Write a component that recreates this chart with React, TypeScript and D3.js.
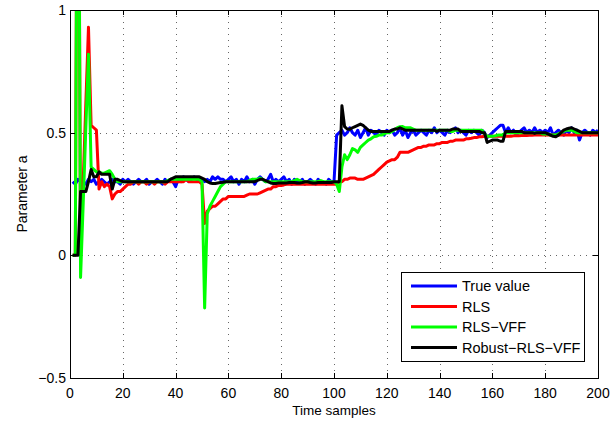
import React from "react";
import * as d3 from "d3";

const samples: number[] = d3.range(1, 201);

const trueValue: number[] = [
  0.30,0.29,0.31,0.30,0.30,0.29,0.31,0.30,0.31,0.29,0.30,0.31,0.30,0.29,0.30,0.31,0.30,0.30,0.29,0.31,
  0.30,0.31,0.30,0.29,0.30,0.31,0.30,0.30,0.31,0.29,0.30,0.30,0.31,0.30,0.29,0.31,0.30,0.31,0.30,0.28,
  0.31,0.30,0.32,0.31,0.30,0.31,0.32,0.31,0.30,0.31,0.30,0.31,0.30,0.32,0.31,0.32,0.31,0.31,0.30,0.31,
  0.32,0.30,0.31,0.29,0.31,0.30,0.32,0.30,0.31,0.29,0.31,0.32,0.31,0.30,0.31,0.33,0.30,0.31,0.30,0.31,
  0.32,0.30,0.31,0.29,0.31,0.30,0.30,0.31,0.29,0.30,0.31,0.30,0.29,0.31,0.30,0.30,0.29,0.31,0.30,0.30,
  0.49,0.50,0.51,0.49,0.50,0.52,0.50,0.49,0.51,0.48,0.50,0.52,0.49,0.51,0.50,0.49,0.51,0.50,0.49,0.51,
  0.50,0.51,0.49,0.50,0.52,0.49,0.51,0.48,0.50,0.51,0.49,0.50,0.51,0.50,0.49,0.51,0.50,0.52,0.50,0.51,
  0.50,0.49,0.51,0.50,0.51,0.52,0.50,0.51,0.50,0.49,0.51,0.50,0.51,0.50,0.49,0.51,0.50,0.48,0.49,0.50,
  0.51,0.52,0.53,0.53,0.50,0.52,0.50,0.51,0.49,0.50,0.51,0.52,0.50,0.51,0.50,0.52,0.50,0.51,0.50,0.51,
  0.50,0.52,0.49,0.50,0.51,0.50,0.49,0.51,0.50,0.52,0.50,0.51,0.47,0.50,0.51,0.50,0.49,0.51,0.50,0.51,
];

const rls: number[] = [
  0.00,0.00,2.50,0.00,0.30,0.62,0.93,0.53,0.52,0.51,0.27,0.30,0.28,0.29,0.28,0.23,0.25,0.26,0.26,0.27,
  0.28,0.29,0.29,0.30,0.30,0.29,0.30,0.30,0.29,0.30,0.30,0.29,0.30,0.30,0.30,0.29,0.30,0.30,0.30,0.30,
  0.30,0.30,0.30,0.31,0.30,0.30,0.30,0.30,0.30,0.29,0.13,0.18,0.19,0.20,0.20,0.21,0.22,0.23,0.23,0.24,
  0.24,0.24,0.24,0.24,0.24,0.24,0.245,0.25,0.25,0.25,0.25,0.255,0.26,0.265,0.27,0.27,0.28,0.28,0.285,0.285,
  0.287,0.29,0.29,0.29,0.29,0.29,0.29,0.29,0.29,0.29,0.29,0.29,0.29,0.29,0.29,0.29,0.29,0.29,0.29,0.29,
  0.29,0.30,0.30,0.31,0.31,0.315,0.315,0.315,0.31,0.31,0.31,0.315,0.32,0.325,0.33,0.34,0.35,0.36,0.37,0.38,
  0.385,0.39,0.39,0.40,0.42,0.42,0.42,0.42,0.425,0.43,0.435,0.44,0.44,0.445,0.445,0.45,0.45,0.45,0.455,0.455,
  0.46,0.46,0.46,0.465,0.465,0.47,0.47,0.47,0.47,0.475,0.475,0.477,0.48,0.48,0.483,0.483,0.485,0.485,0.485,0.485,
  0.485,0.485,0.485,0.485,0.485,0.485,0.485,0.487,0.487,0.487,0.488,0.488,0.488,0.489,0.489,0.49,0.49,0.49,0.49,0.49,
  0.49,0.49,0.49,0.49,0.49,0.49,0.49,0.49,0.49,0.49,0.49,0.49,0.49,0.49,0.49,0.49,0.49,0.49,0.49,0.49,
];

const rlsVff: number[] = [
  0.00,0.00,2.50,-0.09,0.21,0.52,0.82,0.36,0.35,0.34,0.34,0.335,0.335,0.34,0.345,0.33,0.31,0.30,0.30,0.30,
  0.30,0.30,0.30,0.30,0.30,0.30,0.30,0.30,0.30,0.30,0.30,0.30,0.30,0.30,0.30,0.30,0.305,0.31,0.31,0.31,
  0.31,0.31,0.31,0.31,0.31,0.31,0.31,0.31,0.31,0.30,-0.215,0.17,0.20,0.22,0.24,0.26,0.28,0.29,0.30,0.30,
  0.30,0.30,0.30,0.30,0.30,0.30,0.30,0.305,0.31,0.31,0.31,0.315,0.31,0.30,0.30,0.30,0.30,0.30,0.30,0.30,
  0.30,0.30,0.30,0.30,0.305,0.31,0.305,0.30,0.30,0.30,0.30,0.30,0.30,0.30,0.305,0.30,0.30,0.30,0.30,0.30,
  0.29,0.26,0.36,0.41,0.39,0.41,0.435,0.43,0.42,0.44,0.45,0.46,0.47,0.475,0.483,0.485,0.49,0.49,0.495,0.50,
  0.50,0.505,0.513,0.52,0.524,0.525,0.52,0.52,0.52,0.515,0.51,0.51,0.51,0.51,0.51,0.51,0.51,0.51,0.51,0.51,
  0.51,0.51,0.51,0.505,0.505,0.51,0.51,0.51,0.51,0.51,0.51,0.51,0.51,0.51,0.51,0.51,0.495,0.485,0.485,0.485,
  0.487,0.49,0.49,0.49,0.50,0.50,0.50,0.50,0.50,0.50,0.50,0.50,0.50,0.50,0.50,0.50,0.50,0.50,0.495,0.495,
  0.495,0.49,0.49,0.49,0.495,0.50,0.505,0.51,0.51,0.51,0.505,0.50,0.50,0.50,0.50,0.50,0.50,0.50,0.50,0.50,
];

const robustRlsVff: number[] = [
  0.00,0.00,0.00,0.26,0.26,0.26,0.30,0.35,0.32,0.32,0.34,0.33,0.33,0.33,0.33,0.27,0.31,0.31,0.305,0.30,
  0.30,0.30,0.30,0.30,0.30,0.30,0.30,0.30,0.30,0.30,0.30,0.30,0.30,0.30,0.30,0.30,0.30,0.31,0.315,0.32,
  0.32,0.32,0.32,0.32,0.32,0.32,0.32,0.32,0.32,0.315,0.31,0.30,0.295,0.293,0.293,0.295,0.297,0.298,0.30,0.30,
  0.30,0.30,0.30,0.30,0.30,0.30,0.30,0.30,0.30,0.30,0.305,0.31,0.31,0.305,0.30,0.295,0.293,0.293,0.295,0.295,
  0.295,0.295,0.297,0.297,0.297,0.295,0.295,0.297,0.30,0.30,0.297,0.295,0.295,0.297,0.297,0.297,0.297,0.297,0.297,0.30,
  0.30,0.30,0.61,0.525,0.515,0.514,0.52,0.525,0.53,0.535,0.53,0.52,0.51,0.505,0.505,0.505,0.505,0.505,0.505,0.505,
  0.505,0.51,0.515,0.515,0.52,0.515,0.51,0.51,0.51,0.51,0.51,0.51,0.51,0.51,0.51,0.51,0.51,0.51,0.505,0.51,
  0.51,0.51,0.51,0.51,0.515,0.515,0.515,0.505,0.505,0.505,0.505,0.505,0.505,0.505,0.505,0.50,0.50,0.46,0.465,0.47,
  0.47,0.47,0.465,0.465,0.505,0.505,0.505,0.505,0.505,0.505,0.505,0.50,0.50,0.50,0.50,0.497,0.50,0.50,0.50,0.50,
  0.495,0.49,0.485,0.483,0.49,0.50,0.51,0.515,0.518,0.52,0.515,0.51,0.505,0.50,0.50,0.50,0.50,0.50,0.50,0.50,
];

const seriesNames: string[] = ["True value", "RLS", "RLS\u2212VFF", "Robust\u2212RLS\u2212VFF"];
const seriesColors: string[] = ["#0000ff", "#ff0000", "#00ff00", "#000000"];
const xTicks: number[] = [0, 20, 40, 60, 80, 100, 120, 140, 160, 180, 200];
const yTicks: number[] = [-0.5, 0, 0.5, 1];
const xLabel = "Time samples";
const yLabel = "Parameter a";

const W = 615;
const H = 421;
const left = 70;
const right = 598;
const top = 10;
const bottom = 378;
const FONT = "'Liberation Sans', Arial, Helvetica, sans-serif";

function fmt(v: number): string {
  return v < 0 ? "\u2212" + String(Math.abs(v)) : String(v);
}

export default function App() {
  const x = d3.scaleLinear().domain([0, 200]).range([left, right]);
  const y = d3.scaleLinear().domain([-0.5, 1]).range([bottom, top]);
  const allSeries = [trueValue, rls, rlsVff, robustRlsVff];
  const line = d3
    .line<number>()
    .x((_, i) => x(samples[i]))
    .y((d) => y(d));

  const legX = 401;
  const legY = 272;
  const legW = 183;
  const legH = 89;
  const rowH = 20.5;

  return (
    <svg
      width={W}
      height={H}
      style={{ position: "absolute", left: 0, top: 0, background: "#fff" }}
      fontFamily={FONT}
    >
      <defs>
        <clipPath id="plotClip">
          <rect x={left} y={top} width={right - left} height={bottom - top} />
        </clipPath>
      </defs>
      <rect x={0} y={0} width={W} height={H} fill="#fff" />
      <rect x={left} y={top} width={right - left} height={bottom - top} fill="#fff" />
      {/* grid */}
      <g stroke="#666" strokeWidth={1} strokeDasharray="1,5">
        {xTicks.slice(1, -1).map((t) => (
          <line key={"gx" + t} x1={Math.round(x(t)) + 0.5} x2={Math.round(x(t)) + 0.5} y1={top} y2={bottom} />
        ))}
        {yTicks.slice(1, -1).map((t) => (
          <line key={"gy" + t} x1={left} x2={right} y1={Math.round(y(t)) + 0.5} y2={Math.round(y(t)) + 0.5} />
        ))}
      </g>
      {/* series */}
      <g clipPath="url(#plotClip)" fill="none" strokeWidth={3} strokeLinejoin="round">
        {allSeries.map((s, i) => (
          <path key={seriesNames[i]} d={line(s) || ""} stroke={seriesColors[i]} />
        ))}
      </g>
      {/* ticks */}
      <g stroke="#000" strokeWidth={1}>
        {xTicks.map((t) => (
          <g key={"tx" + t}>
            <line x1={Math.round(x(t)) + 0.5} x2={Math.round(x(t)) + 0.5} y1={bottom} y2={bottom - 5} />
            <line x1={Math.round(x(t)) + 0.5} x2={Math.round(x(t)) + 0.5} y1={top} y2={top + 5} />
          </g>
        ))}
        {yTicks.map((t) => (
          <g key={"ty" + t}>
            <line x1={left} x2={left + 5} y1={Math.round(y(t)) + 0.5} y2={Math.round(y(t)) + 0.5} />
            <line x1={right} x2={right - 5} y1={Math.round(y(t)) + 0.5} y2={Math.round(y(t)) + 0.5} />
          </g>
        ))}
      </g>
      <rect x={left + 0.5} y={top + 0.5} width={right - left} height={bottom - top} fill="none" stroke="#000" strokeWidth={1} />
      {/* tick labels */}
      <g fontSize={14} fill="#000">
        {xTicks.map((t) => (
          <text key={"lx" + t} x={x(t)} y={bottom + 20} textAnchor="middle">
            {fmt(t)}
          </text>
        ))}
        {yTicks.map((t) => (
          <text key={"ly" + t} x={left - 4} y={y(t) + 5} textAnchor="end">
            {fmt(t)}
          </text>
        ))}
      </g>
      <text x={(left + right) / 2} y={415} textAnchor="middle" fontSize={13.5}>
        {xLabel}
      </text>
      <text transform={`translate(27, ${(top + bottom) / 2}) rotate(-90)`} textAnchor="middle" fontSize={14}>
        {yLabel}
      </text>
      {/* legend */}
      <g>
        <rect x={legX + 0.5} y={legY + 0.5} width={legW} height={legH} fill="#fff" stroke="#000" strokeWidth={1} />
        {seriesNames.map((n, i) => (
          <g key={"leg" + n}>
            <line
              x1={legX + 10}
              x2={legX + 56}
              y1={legY + 14 + i * rowH}
              y2={legY + 14 + i * rowH}
              stroke={seriesColors[i]}
              strokeWidth={3}
            />
            <text x={legX + 61} y={legY + 14 + i * rowH + 5} fontSize={14.5}>
              {n}
            </text>
          </g>
        ))}
      </g>
    </svg>
  );
}
